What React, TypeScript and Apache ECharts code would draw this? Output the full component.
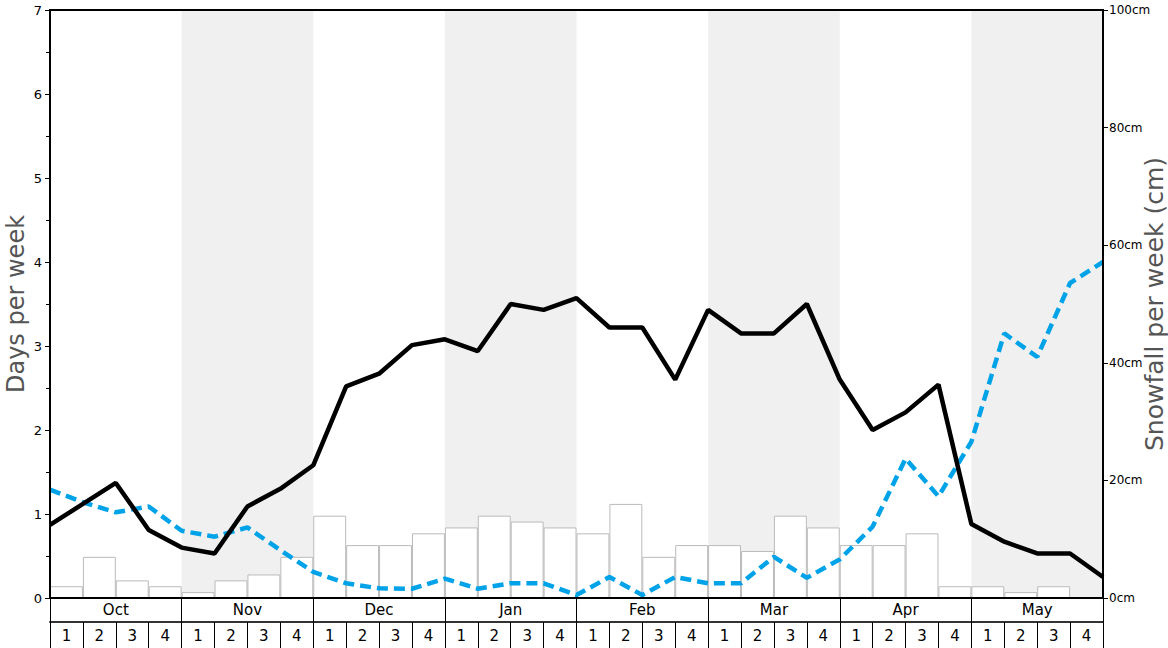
import React, { useEffect, useRef } from "react";
import * as echarts from "echarts";

const months = ["Oct", "Nov", "Dec", "Jan", "Feb", "Mar", "Apr", "May"];
const weekCats = months.flatMap((m) => [1, 2, 3, 4].map((w) => `${m} ${w}`));
const boundaryCats = Array.from({ length: 33 }, (_, i) => String(i));

// Snowfall per week (cm), one per week
const snowfall = [2, 7, 3, 2, 1, 3, 4, 7, 14, 9, 9, 11, 12, 14, 13, 12, 11, 16, 7, 9, 9, 8, 14, 12, 9, 9, 11, 2, 2, 1, 2, 0];

// Days per week (black line), at week boundaries
const blackDays = [0.87, 1.12, 1.37, 0.81, 0.6, 0.53, 1.09, 1.3, 1.58, 2.52, 2.67, 3.01, 3.08, 2.94, 3.5, 3.43, 3.57, 3.22, 3.22, 2.6, 3.43, 3.15, 3.15, 3.5, 2.6, 2.0, 2.21, 2.54, 0.88, 0.67, 0.53, 0.53, 0.25];

// Days per week (blue dashed line), at week boundaries
const blueDays = [1.29, 1.14, 1.02, 1.09, 0.8, 0.73, 0.84, 0.57, 0.31, 0.175, 0.115, 0.11, 0.23, 0.11, 0.175, 0.175, 0.035, 0.25, 0.035, 0.25, 0.175, 0.175, 0.49, 0.24, 0.46, 0.85, 1.66, 1.21, 1.86, 3.15, 2.87, 3.75, 4.0];

// Shaded months (Nov, Jan, Mar, May) as boundary index ranges
const shadedRanges: [number, number][] = [[4, 8], [12, 16], [20, 24], [28, 32]];

const FONT = "DejaVu Sans";

export default function App() {
  const ref = useRef<HTMLDivElement>(null);
  useEffect(() => {
    if (!ref.current) return;
    const chart = echarts.init(ref.current, null, { renderer: "svg" });
    chart.setOption({
      animation: false,
      textStyle: { fontFamily: FONT },
      grid: {
        left: 50,
        right: 65,
        top: 10,
        bottom: 50,
        containLabel: false,
        outerBoundsMode: "none",
        show: true,
        borderColor: "#000",
        borderWidth: 2,
        backgroundColor: "transparent",
        z: 10,
      },
      xAxis: [
        {
          type: "category",
          data: weekCats,
          boundaryGap: true,
          show: false,
        },
        {
          type: "category",
          data: boundaryCats,
          boundaryGap: false,
          show: false,
        },
        {
          type: "category",
          data: months,
          boundaryGap: true,
          position: "bottom",
          offset: 0,
          axisLine: { show: false },
          axisTick: { show: true, length: 24, interval: 0, lineStyle: { color: "#000", width: 1 } },
          axisLabel: { interval: 0, margin: 4, fontSize: 15, color: "#000", fontFamily: FONT },
          z: 10,
        },
        {
          type: "category",
          data: weekCats,
          boundaryGap: true,
          position: "bottom",
          offset: 24,
          axisLine: { show: true, lineStyle: { color: "#333", width: 2 } },
          axisTick: { show: true, length: 30, interval: 0, lineStyle: { color: "#000", width: 1 } },
          axisLabel: {
            interval: 0,
            margin: 6,
            fontSize: 15,
            color: "#000",
            fontFamily: FONT,
            formatter: (_v: string, i: number) => String((i % 4) + 1),
          },
          z: 10,
        },
      ],
      yAxis: [
        {
          type: "value",
          min: 0,
          max: 7,
          interval: 1,
          position: "left",
          name: "Days per week",
          nameLocation: "middle",
          nameGap: 22,
          nameRotate: 90,
          nameMoveOverlap: false,
          nameTextStyle: { fontSize: 24, color: "#555", fontFamily: FONT },
          axisLine: { show: true, lineStyle: { color: "#000", width: 2 } },
          axisTick: { show: true, length: 5, lineStyle: { color: "#000" } },
          minorTick: { show: true, splitNumber: 2, length: 4, lineStyle: { color: "#000" } },
          axisLabel: { fontSize: 13, color: "#000", margin: 8, fontFamily: FONT },
          splitLine: { show: false },
          z: 10,
        },
        {
          type: "value",
          min: 0,
          max: 100,
          interval: 20,
          position: "right",
          name: "Snowfall per week (cm)",
          nameLocation: "middle",
          nameGap: 39,
          nameRotate: 90,
          nameMoveOverlap: false,
          nameTextStyle: { fontSize: 25, color: "#555", fontFamily: FONT },
          axisLine: { show: true, lineStyle: { color: "#000", width: 2 } },
          axisTick: { show: true, length: 5, lineStyle: { color: "#000" } },
          axisLabel: { fontSize: 12, color: "#000", margin: 6, formatter: "{value}cm", fontFamily: FONT },
          splitLine: { show: false },
          z: 10,
        },
      ],
      series: [
        {
          type: "line",
          xAxisIndex: 1,
          yAxisIndex: 0,
          data: [],
          silent: true,
          markArea: {
            silent: true,
            itemStyle: { color: "#f0f0f0" },
            data: shadedRanges.map(([a, b]) => [{ xAxis: String(a) }, { xAxis: String(b) }]),
          },
          z: 1,
        },
        {
          type: "bar",
          xAxisIndex: 0,
          yAxisIndex: 1,
          data: snowfall,
          barCategoryGap: "0%",
          itemStyle: { color: "#fff", borderColor: "#bbb", borderWidth: 1 },
          z: 2,
        },
        {
          type: "line",
          xAxisIndex: 1,
          yAxisIndex: 0,
          data: blueDays,
          symbol: "none",
          lineStyle: { color: "#00a2e8", width: 4.5, type: [11, 6] },
          z: 3,
        },
        {
          type: "line",
          xAxisIndex: 1,
          yAxisIndex: 0,
          data: blackDays,
          symbol: "none",
          lineStyle: { color: "#000", width: 4.5 },
          z: 4,
        },
      ],
    });
    return () => chart.dispose();
  }, []);
  return (
    <div
      ref={ref}
      style={{ position: "fixed", left: 0, top: 0, width: 1168, height: 648, background: "#fff" }}
    />
  );
}
